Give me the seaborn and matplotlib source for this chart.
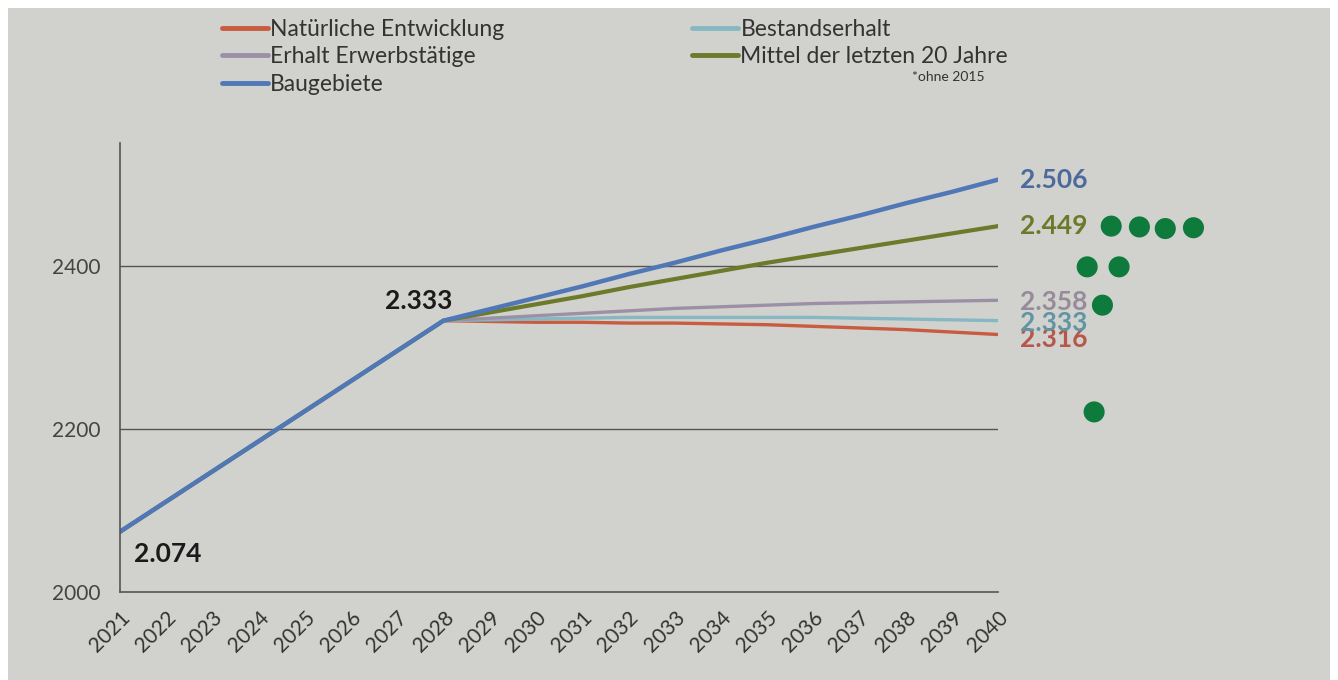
import numpy as np
import pandas as pd
import matplotlib
matplotlib.use("Agg")
import matplotlib.pyplot as plt
import seaborn as sns
from matplotlib.patches import Rectangle

# Jahre und Szenarien
years = list(range(2021, 2041))
start = [2074, 2111, 2148, 2185, 2222, 2259, 2296]

natuerlich = start + [2333, 2332, 2331, 2331, 2330, 2330, 2329, 2328, 2326, 2324, 2322, 2319, 2316]
bestand = start + [2333, 2334, 2335, 2336, 2337, 2337, 2337, 2337, 2337, 2336, 2335, 2334, 2333]
erwerb = start + [2333, 2336, 2339, 2342, 2345, 2348, 2350, 2352, 2354, 2355, 2356, 2357, 2358]
mittel = start + [2333, 2343, 2353, 2363, 2374, 2384, 2394, 2404, 2413, 2422, 2431, 2440, 2449]
bau = start + [2333, 2347, 2361, 2375, 2390, 2404, 2419, 2433, 2448, 2462, 2477, 2491, 2506]

names = ["Natürliche Entwicklung", "Bestandserhalt", "Erhalt Erwerbstätige",
         "Mittel der letzten 20 Jahre", "Baugebiete"]
series = [natuerlich, bestand, erwerb, mittel, bau]
colors = ["#c95b40", "#86b8c4", "#9c90a6", "#6b7b2b", "#5078b6"]
label_colors = ["#b5574a", "#5f95a5", "#978b9b", "#6b7a2a", "#4d6a9c"]
end_labels = ["2.316", "2.333", "2.358", "2.449", "2.506"]
label_dy = [-3, -2, -1, 0, 0]
widths = [2.4, 2.4, 2.4, 3.0, 3.2]

# Klebepunkte rechts neben dem Diagramm
dot_x = [2042.45, 2043.06, 2043.62, 2044.23, 2041.93, 2042.62, 2042.26, 2042.08]
dot_y = [2449, 2448, 2446, 2447, 2399, 2399, 2352, 2221]

sns.set_style("white")
plt.rcParams['font.family'] = ['Lato', 'DejaVu Sans']

fig = plt.figure(figsize=(13.38, 6.8), dpi=100, facecolor="white")
bg = Rectangle((8 / 1338, 0), 1322 / 1338, 672 / 680, transform=fig.transFigure,
               facecolor="#d1d2cd", edgecolor="none", zorder=-10)
fig.patches.append(bg)

ax = fig.add_axes([120 / 1338, 1 - 592 / 680, 878 / 1338, 449 / 680])
ax.set_facecolor("none")

lines = {}
for name, vals, col, lw in zip(names, series, colors, widths):
    df = pd.DataFrame({"Jahr": years, "Wert": vals})
    sns.lineplot(data=df, x="Jahr", y="Wert", color=col, linewidth=lw, ax=ax,
                 label=name, legend=False)
    lines[name] = ax.lines[-1]

for vals, txt, col, dy in zip(series, end_labels, label_colors, label_dy):
    ax.annotate(txt, xy=(years[-1], vals[-1]), xytext=(16, dy), textcoords="offset points",
                ha="left", va="center", fontsize=19, fontweight="bold", color=col,
                annotation_clip=False)

ax.annotate("2.074", xy=(2021, 2074), xytext=(10, -16), textcoords="offset points",
            ha="left", va="center", fontsize=19, fontweight="bold", color="#1a1a1a")
ax.annotate("2.333", xy=(2028, 2333), xytext=(-18, 14), textcoords="offset points",
            ha="center", va="center", fontsize=19, fontweight="bold", color="#1a1a1a")

ax.scatter(dot_x, dot_y, s=230, color="#0e7a3c", edgecolor="none", clip_on=False, zorder=5)

ax.set_xlim(2021, 2040)
ax.set_ylim(2000, 2551)
ax.set_xticks(years)
ax.set_xticklabels([str(y) for y in years], rotation=45, ha="right",
                   rotation_mode="anchor", fontsize=15, color="#333333")
ax.set_yticks([2000, 2200, 2400])
ax.set_yticklabels(["2000", "2200", "2400"], fontsize=15, color="#444444")
ax.tick_params(axis="x", direction="out", length=7, width=1, color="#555555", pad=4)
ax.tick_params(axis="y", direction="out", length=8, width=1, color="#555555", pad=6)
ax.set_xlabel("")
ax.set_ylabel("")

for y in [2200, 2400]:
    ax.axhline(y, color="#555555", linewidth=1, zorder=0)

for side in ["top", "right"]:
    ax.spines[side].set_visible(False)
for side in ["left", "bottom"]:
    ax.spines[side].set_color("#555555")
    ax.spines[side].set_linewidth(1.2)

order = ["Natürliche Entwicklung", "Erhalt Erwerbstätige", "Baugebiete",
         "Bestandserhalt", "Mittel der letzten 20 Jahre"]
leg = fig.legend([lines[n] for n in order], order, loc="upper left",
                 bbox_to_anchor=(222 / 1338, 1 - 19 / 680), ncol=2, frameon=False,
                 fontsize=16.5, handlelength=2.0, handletextpad=0.1,
                 columnspacing=8.2, labelspacing=0.28, borderpad=0, borderaxespad=0)
for t in leg.get_texts():
    t.set_color("#333333")
for h in leg.legend_handles:
    h.set_linewidth(3.5)

fig.text(985 / 1338, 1 - 77 / 680, "*ohne 2015", ha="right", va="center",
         fontsize=10, color="#333333")

fig.savefig("out.png", dpi=100, facecolor=fig.get_facecolor())
